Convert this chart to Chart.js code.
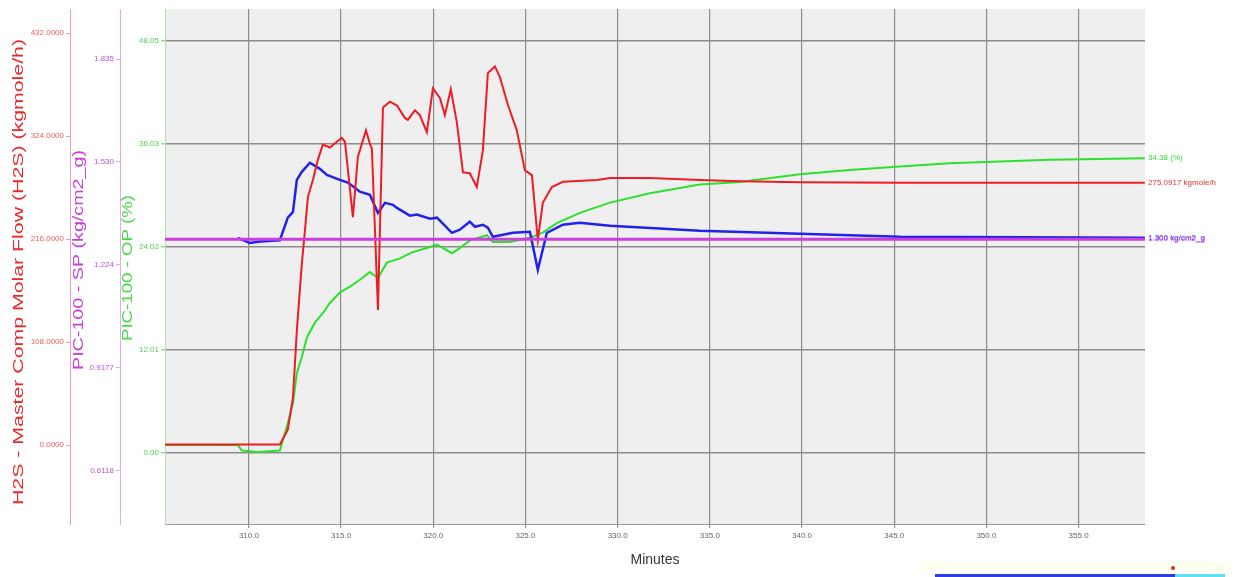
<!DOCTYPE html>
<html>
<head>
    <meta charset="UTF-8">
    <title>PIC-100 Trend</title>
    <script src="https://cdn.jsdelivr.net/npm/chart.js"></script>
    <style>
        body { margin: 0; background: #fff; }
        #wrap { position: relative; width: 1235px; height: 577px; }
        .strip { position: absolute; }
    </style>
</head>
<body>
    <div id="wrap">
        <canvas id="trendChart"></canvas>
        <!-- scroll strip under the trend -->
        <div class="strip" style="left:920px;top:562px;width:310px;height:9px;background:#fffff0;"></div>
        <div class="strip" style="left:935px;top:574px;width:240px;height:3px;background:#3040e0;"></div>
        <div class="strip" style="left:1175px;top:574px;width:50px;height:3px;background:#60e0f0;"></div>
        <div class="strip" style="left:1171px;top:566px;width:4px;height:4px;border-radius:2px;background:#d03030;"></div>
    </div>

    <script>
        // time (minutes) and H2S molar flow (kgmole/h)
        const h2sTime = [305.45, 311.68, 312.11, 312.39, 312.60, 312.87, 313.04, 313.20, 313.47, 313.74, 314.01,
            314.39, 314.77, 315.04, 315.21, 315.64, 315.91, 316.35, 316.56, 316.67, 317.00, 317.27, 317.65,
            318.03, 318.46, 318.62, 319.00, 319.27, 319.65, 319.98, 320.36, 320.63, 320.95, 321.28, 321.61,
            321.98, 322.36, 322.69, 322.96, 323.34, 323.61, 324.05, 324.53, 324.97, 325.35, 325.67, 325.94,
            326.43, 327.03, 328.87, 329.58, 331.75, 334.46, 336.63, 339.88, 345.30, 358.59];
        const h2sFlow = [0.5, 0.5, 16, 50, 120, 190, 225, 260, 278, 299, 315,
            312, 318, 322, 318, 239, 302, 330, 316, 311, 141.5, 354, 360,
            356, 343, 341, 351, 346, 328, 374, 364, 346, 373, 338, 286,
            285, 270.5, 309, 390, 397, 386, 356.5, 330, 288, 283, 215, 254,
            270.5, 276, 278, 280, 280, 278, 276.5, 275.5, 275.1, 275.0917];

        // PIC-100 controller output (%)
        const opTime = [305.45, 309.40, 309.62, 310.50, 311.68, 312.11, 312.39, 312.60, 312.87, 313.15, 313.58,
            314.01, 314.39, 314.93, 315.48, 316.02, 316.56, 317.00, 317.48, 318.19, 318.84, 319.65, 320.20,
            321.01, 321.44, 321.98, 322.91, 323.23, 324.15, 325.24, 325.94, 326.70, 327.95, 329.58, 331.75,
            334.46, 336.63, 339.88, 342.59, 345.30, 348.01, 350.73, 353.44, 358.59];
        const opValue = [0.93, 0.93, 0.3, 0.12, 0.3, 3.5, 5.8, 9.3, 11.2, 13.5, 15.2,
            16.3, 17.5, 18.7, 19.4, 20.2, 21.1, 20.4, 22.2, 22.7, 23.4, 23.9, 24.3,
            23.3, 23.9, 24.8, 25.4, 24.6, 24.6, 25.1, 25.7, 26.8, 28.0, 29.2, 30.3,
            31.3, 31.6, 32.5, 33.0, 33.4, 33.8, 34.0, 34.2, 34.38];

        // PIC-100 process pressure (kg/cm2_g)
        const pvTime = [309.40, 310.05, 310.60, 311.68, 312.11, 312.39, 312.60, 312.87, 313.31, 313.85, 314.23,
            314.93, 315.37, 316.02, 316.56, 317.00, 317.38, 317.81, 318.03, 318.73, 319.11, 319.82, 320.20,
            321.01, 321.44, 321.98, 322.26, 322.69, 322.96, 323.23, 324.32, 325.24, 325.67, 326.16, 327.03,
            327.95, 329.58, 334.46, 339.88, 345.30, 358.59];
        const pvValue = [1.304, 1.289, 1.293, 1.297, 1.364, 1.381, 1.476, 1.500, 1.527, 1.509, 1.491,
            1.476, 1.468, 1.441, 1.432, 1.378, 1.408, 1.402, 1.393, 1.370, 1.373, 1.361, 1.364,
            1.319, 1.328, 1.352, 1.337, 1.343, 1.334, 1.307, 1.319, 1.322, 1.209, 1.319, 1.343,
            1.349, 1.340, 1.325, 1.316, 1.307, 1.304];

        // PIC-100 set point (kg/cm2_g)
        const spTime = [305.45, 358.59];
        const spValue = [1.30, 1.30];

        // axis ticks
        const timeTicks = [310, 315, 320, 325, 330, 335, 340, 345, 350, 355];
        const h2sTicks = [0, 108, 216, 324, 432];
        const spTicks = [0.6118, 0.9177, 1.224, 1.530, 1.835];
        const spTickLabels = ['0.6118', '0.9177', '1.224', '1.530', '1.835'];
        const opTicks = [0, 12.0125, 24.025, 36.0375, 48.05];
        const opTickLabels = ['0.00', '12.01', '24.02', '36.03', '48.05'];

        const endLabels = [
            { axis: 'yOp', value: opValue[opValue.length - 1], text: '34.38 (%)', color: '#33dd33' },
            { axis: 'yH2s', value: h2sFlow[h2sFlow.length - 1], text: '275.0917 kgmole/h', color: '#ee3030' },
            { axis: 'ySp', value: pvValue[pvValue.length - 1], text: '1.300 kg/cm2_g', color: '#4040ff' },
            { axis: 'ySp', value: spValue[spValue.length - 1], text: '1.300 kg/cm2_g', color: '#c040e0' }
        ];

        // vertical axis titles: x offset into the axis box, centre y and drawn length (px)
        const axisTitles = [
            { axis: 'yH2s', text: 'H2S - Master Comp Molar Flow (H2S) (kgmole/h)', color: '#ea2a2a', dx: 19, cy: 272, len: 466 },
            { axis: 'ySp', text: 'PIC-100 - SP (kg/cm2_g)', color: '#cc3ddd', dx: 9, cy: 260, len: 220 },
            { axis: 'yOp', text: 'PIC-100 - OP (%)', color: '#44dd44', dx: 8, cy: 268, len: 146 }
        ];

        const pts = (xs, ys) => xs.map((x, i) => ({ x: x, y: ys[i] }));
        const narrow = "'Liberation Sans Narrow', 'Liberation Sans', Arial, sans-serif";
        const fixTicks = values => scale => { scale.ticks = values.map(v => ({ value: v })); };

        const plotBackground = {
            id: 'plotBackground',
            beforeDraw(chart) {
                const { ctx, chartArea: a } = chart;
                ctx.save();
                ctx.fillStyle = '#efefef';
                ctx.fillRect(a.left, a.top, a.right - a.left, a.bottom - a.top);
                ctx.restore();
            }
        };

        const lastValueLabels = {
            id: 'lastValueLabels',
            afterDatasetsDraw(chart) {
                const { ctx, chartArea: a } = chart;
                ctx.save();
                ctx.font = '8px ' + narrow;
                ctx.textBaseline = 'middle';
                endLabels.forEach(l => {
                    ctx.fillStyle = l.color;
                    ctx.fillText(l.text, a.right + 3, chart.scales[l.axis].getPixelForValue(l.value));
                });
                ctx.restore();
            }
        };

        // stretched vertical titles for the three left axes
        const stretchedTitles = {
            id: 'stretchedTitles',
            afterDraw(chart) {
                const ctx = chart.ctx;
                axisTitles.forEach(t => {
                    ctx.save();
                    ctx.font = '15px ' + narrow;
                    const w = ctx.measureText(t.text).width;
                    ctx.translate(chart.scales[t.axis].left + t.dx, t.cy);
                    ctx.rotate(-Math.PI / 2);
                    ctx.scale(t.len / w, 1);
                    ctx.fillStyle = t.color;
                    ctx.textAlign = 'center';
                    ctx.textBaseline = 'middle';
                    ctx.fillText(t.text, 0, 0);
                    ctx.restore();
                });
            }
        };

        new Chart(document.getElementById('trendChart'), {
            type: 'line',
            data: {
                datasets: [
                    { label: 'PIC-100 - SP', data: pts(spTime, spValue), yAxisID: 'ySp', borderColor: '#cc3ddd', borderWidth: 3 },
                    { label: 'H2S - Master Comp Molar Flow (H2S)', data: pts(h2sTime, h2sFlow), yAxisID: 'yH2s', borderColor: '#ee1c24', borderWidth: 2 },
                    { label: 'PIC-100 - PV', data: pts(pvTime, pvValue), yAxisID: 'ySp', borderColor: '#2222e8', borderWidth: 2.5 },
                    { label: 'PIC-100 - OP', data: pts(opTime, opValue), yAxisID: 'yOp', borderColor: '#2ee02e', borderWidth: 2 }
                ]
            },
            options: {
                responsive: true,
                maintainAspectRatio: false,
                animation: false,
                layout: { padding: { top: 9, right: 90, left: 0, bottom: 0 } },
                elements: { point: { radius: 0 }, line: { tension: 0 } },
                plugins: { legend: { display: false }, tooltip: { enabled: false } },
                scales: {
                    x: {
                        type: 'linear',
                        min: 305.45,
                        max: 358.6,
                        afterBuildTicks: fixTicks(timeTicks),
                        afterFit: s => { s.height = 53; },
                        border: { color: '#999' },
                        grid: { color: '#8c8c8c', lineWidth: 1.2, tickLength: 4, tickColor: '#999' },
                        ticks: { color: '#666', font: { size: 8, family: narrow }, padding: 3, maxRotation: 0, callback: v => v.toFixed(1) },
                        title: { display: true, text: 'Minutes', color: '#333', font: { size: 14, family: narrow, lineHeight: 1 }, padding: { top: 0, bottom: 10 } }
                    },
                    // left axes stack from the plot outwards: OP, SP, H2S
                    yOp: {
                        position: 'left',
                        min: -8.28,
                        max: 51.78,
                        afterBuildTicks: fixTicks(opTicks),
                        afterFit: s => { s.width = 45; },
                        border: { color: '#b0e8b0' },
                        grid: { color: '#8c8c8c', lineWidth: 1.5, tickLength: 4, tickColor: '#90e090' },
                        ticks: { color: '#50d050', font: { size: 8, family: narrow }, padding: 2, callback: (v, i) => opTickLabels[i] }
                    },
                    ySp: {
                        position: 'left',
                        min: 0.4544,
                        max: 1.9835,
                        afterBuildTicks: fixTicks(spTicks),
                        afterFit: s => { s.width = 50; },
                        border: { color: '#e8a8f0' },
                        grid: { drawOnChartArea: false, tickLength: 4, color: '#e8a8f0' },
                        ticks: { color: '#c050e0', font: { size: 8, family: narrow }, padding: 2, callback: (v, i) => spTickLabels[i] }
                    },
                    yH2s: {
                        position: 'left',
                        min: -82.8,
                        max: 457.2,
                        afterBuildTicks: fixTicks(h2sTicks),
                        afterFit: s => { s.width = 70; },
                        border: { color: '#f0a0b0' },
                        grid: { drawOnChartArea: false, tickLength: 4, color: '#f0a0b0' },
                        ticks: { color: '#ee6060', font: { size: 8, family: narrow }, padding: 2, callback: v => v.toFixed(4) }
                    }
                }
            },
            plugins: [plotBackground, lastValueLabels, stretchedTitles]
        });
    </script>
</body>
</html>
